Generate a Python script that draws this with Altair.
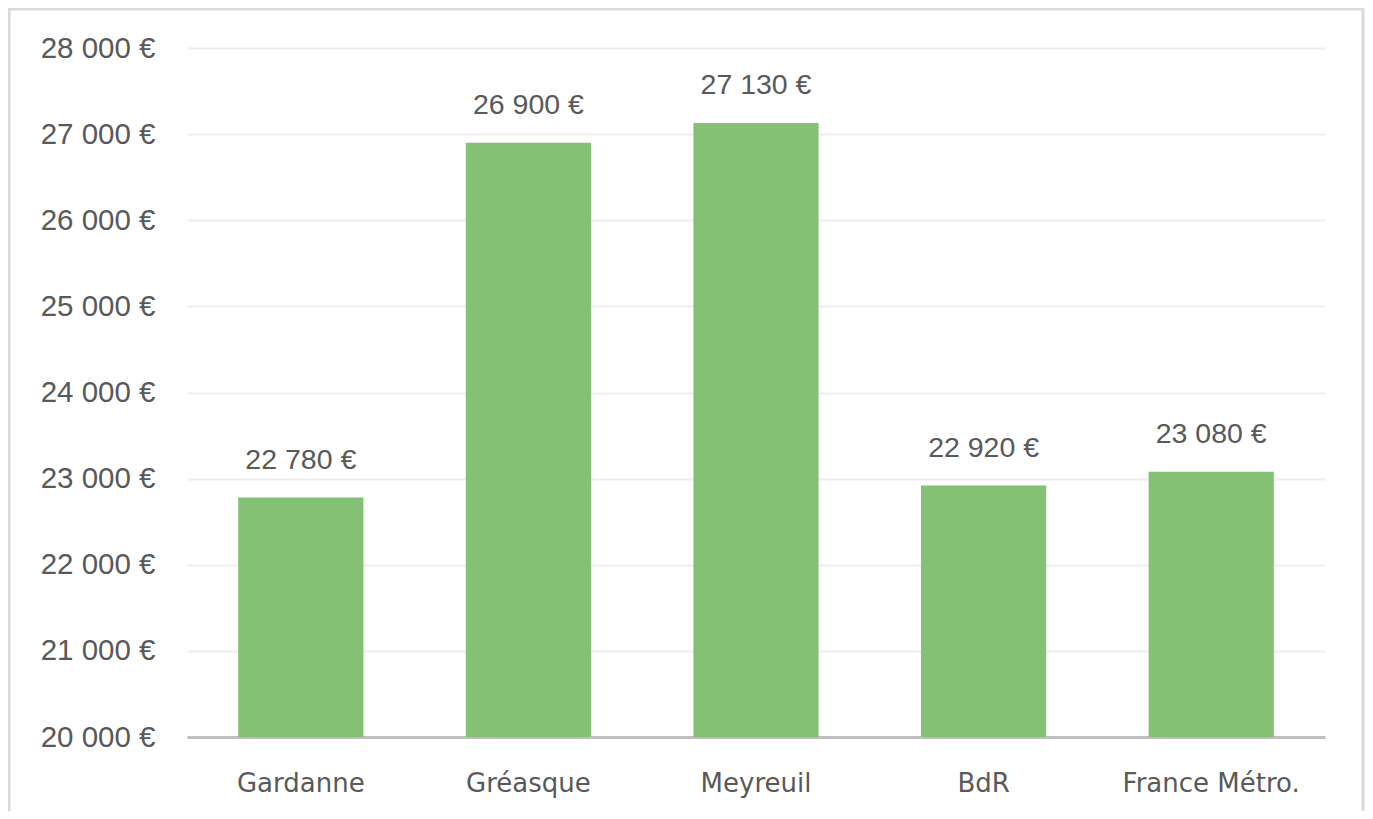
import altair as alt
import pandas as pd

categories = ["Gardanne", "Gréasque", "Meyreuil", "BdR", "France Métro."]
values = [22780, 26900, 27130, 22920, 23080]
y_ticks = [20000, 21000, 22000, 23000, 24000, 25000, 26000, 27000, 28000]

df = pd.DataFrame({"cat": categories, "val": values})

FONT = "Liberation Sans"
XFONT = "DejaVu Sans"
TXT = "#595959"
W, H = 1138, 689

x = alt.X("cat:N", sort=categories, title=None,
          scale=alt.Scale(paddingInner=0.45, paddingOuter=0.225),
          axis=alt.Axis(labelAngle=0, ticks=False, domain=True, domainColor="#bfbfbf",
                        domainWidth=3, labelFontSize=26, labelColor=TXT, labelFont=XFONT,
                        labelBaseline="alphabetic", labelPadding=54, grid=False))
y = alt.Y("val:Q", title=None,
          scale=alt.Scale(domain=[20000, 28000], nice=False, zero=False),
          axis=alt.Axis(values=y_ticks, ticks=False, domain=False, gridColor="#eeeeee",
                        gridWidth=2, labelFontSize=29.5, labelColor=TXT, labelFont=FONT,
                        labelPadding=32,
                        labelExpr="replace(format(datum.value, ',.0f'), ',', ' ') + ' €'"))

base = alt.Chart(df)

frame = alt.Chart(pd.DataFrame({"a": [0]})).mark_rect(
    fill=None, stroke="#d9d9d9", strokeWidth=3, clip=False
).encode(x=alt.value(-178), x2=alt.value(1176), y=alt.value(-39), y2=alt.value(800))

bars = base.mark_bar(color="#80bf6f", opacity=0.97, clip=True).encode(x=x, y=y)

labels = base.transform_calculate(
    lab="replace(format(datum.val, ',.0f'), ',', ' ') + ' €'"
).mark_text(fontSize=28.5, color=TXT, font=FONT, baseline="alphabetic", dy=-29).encode(
    x=alt.X("cat:N", sort=categories), y="val:Q", text="lab:N")

chart = alt.layer(frame, bars, labels).properties(
    width=W, height=H,
    autosize=alt.AutoSizeParams(type="none"),
    padding={"left": 179, "top": 40, "right": 40, "bottom": 74},
).configure_view(stroke=None)

chart.save("out.html", embed_options={"renderer": "svg", "actions": False})
